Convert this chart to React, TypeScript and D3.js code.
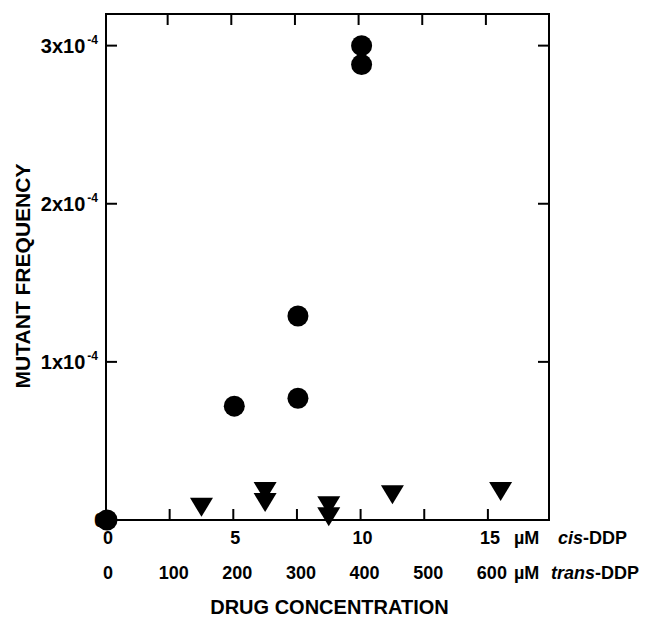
import React from "react";
import * as d3 from "d3";

// ---- data ----
// cis-DDP (µM) vs mutant frequency (x1e-4)
const cisConc = [0, 5, 7.5, 7.5, 10, 10];
const cisFreq = [0, 0.72, 1.29, 0.77, 3.0, 2.88];
// trans-DDP (µM) vs mutant frequency (x1e-4)
const transConc = [150, 250, 250, 350, 350, 450, 620];
const transFreq = [0.08, 0.18, 0.11, 0.09, 0.02, 0.16, 0.18];

const cisTicks = [0, 5, 10, 15];
const cisMinorTicks = [2.5, 5, 7.5, 10, 12.5, 15];
const transTicks = [0, 100, 200, 300, 400, 500, 600];
const yTicks = [1, 2, 3];
const yTickLabels = ["1x10", "2x10", "3x10"];

const W = 645;
const H = 625;
const left = 106;
const right = 549;
const top = 14;
const bottom = 520;

export default function App() {
  const x = d3.scaleLinear().domain([0, 17.4]).range([left, right]);
  const y = d3.scaleLinear().domain([0, 3.2]).range([bottom, top]);
  const transToCis = (t: number) => t / 40;
  const font = "'Liberation Sans', Arial, Helvetica, sans-serif";
  const tri = (cx: number, cy: number) => {
    const w = 23, h = 19;
    return `M${cx - w / 2},${cy - h / 2}L${cx + w / 2},${cy - h / 2}L${cx},${cy + h / 2}Z`;
  };
  const tickLen = 11;

  return (
    <svg
      width={W}
      height={H}
      style={{ position: "absolute", left: 0, top: 0, background: "#fff" }}
      fontFamily={font}
      fontWeight="bold"
    >
      <rect x={0} y={0} width={W} height={H} fill="#fff" />
      {/* frame */}
      <rect x={left} y={top} width={right - left} height={bottom - top} fill="none" stroke="#000" strokeWidth={2} />
      {/* bottom & top ticks */}
      {cisMinorTicks.map((t) => (
        <g key={"xt" + t}>
          <line x1={x(t)} x2={x(t)} y1={bottom} y2={bottom - tickLen} stroke="#000" strokeWidth={2} />
          <line x1={x(t) - 2} x2={x(t) - 2} y1={top} y2={top + tickLen} stroke="#000" strokeWidth={2} />
        </g>
      ))}
      {/* left & right ticks */}
      {yTicks.map((t) => (
        <g key={"yt" + t}>
          <line x1={left} x2={left + tickLen} y1={y(t)} y2={y(t)} stroke="#000" strokeWidth={2} />
          <line x1={right} x2={right - tickLen} y1={y(t)} y2={y(t)} stroke="#000" strokeWidth={2} />
        </g>
      ))}
      {/* y tick labels */}
      {yTicks.map((t, i) => (
        <text key={"yl" + t} x={98} y={y(t) + 7} textAnchor="end" fontSize={20}>
          {yTickLabels[i]}
          <tspan fontSize={12} dy={-9} dx={2}>-4</tspan>
        </text>
      ))}
      <text x={105} y={y(0) + 7} textAnchor="end" fontSize={20}>0</text>
      {/* y title */}
      <text
        transform={`translate(30, ${(top + bottom) / 2 + 9}) rotate(-90)`}
        textAnchor="middle"
        fontSize={21}
      >
        MUTANT FREQUENCY
      </text>
      {/* x labels: cis */}
      {cisTicks.map((t) => (
        <text key={"cl" + t} x={x(t) + 2} y={544} textAnchor="middle" fontSize={18}>{t}</text>
      ))}
      <text x={514} y={544} fontSize={18}>µM</text>
      <text x={558} y={544} fontSize={18}>
        <tspan fontStyle="italic">cis</tspan>-DDP
      </text>
      {/* x labels: trans */}
      {transTicks.map((t) => (
        <text key={"tl" + t} x={x(transToCis(t)) + (t === 0 ? 2 : 4)} y={579} textAnchor="middle" fontSize={18}>{t}</text>
      ))}
      <text x={514} y={579} fontSize={18}>µM</text>
      <text x={551} y={579} fontSize={18}>
        <tspan fontStyle="italic">trans</tspan>-DDP
      </text>
      {/* x title */}
      <text x={(left + right) / 2 + 2} y={614} textAnchor="middle" fontSize={20}>DRUG CONCENTRATION</text>
      {/* data: cis circles */}
      {cisConc.map((c, i) => (
        <circle key={"c" + i} cx={x(c) + 1} cy={y(cisFreq[i])} r={10.5} fill="#000" />
      ))}
      {/* data: trans triangles */}
      {transConc.map((t, i) => (
        <path key={"t" + i} d={tri(x(transToCis(t)), y(transFreq[i]))} fill="#000" />
      ))}
    </svg>
  );
}
